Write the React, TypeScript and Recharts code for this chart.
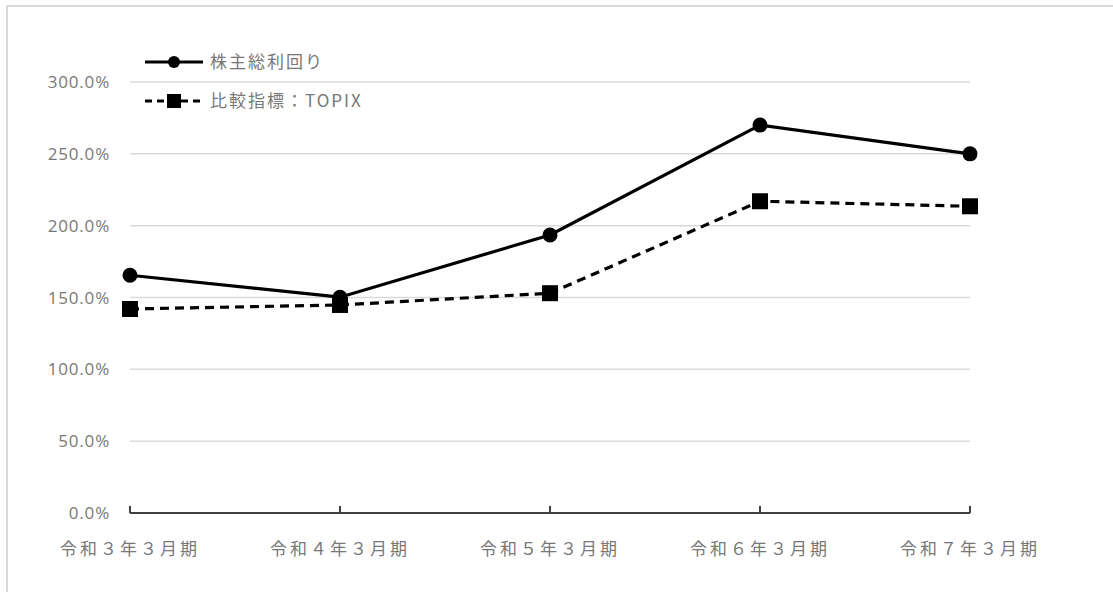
import { LineChart, Line, XAxis, YAxis, CartesianGrid } from "recharts";

const categories = ["令和３年３月期", "令和４年３月期", "令和５年３月期", "令和６年３月期", "令和７年３月期"];
const tsrValues = [165.5, 150.2, 193.5, 270.0, 250.0];
const topixValues = [142.0, 144.8, 153.0, 217.0, 213.5];
const yTicks = [0, 50, 100, 150, 200, 250, 300];
const seriesNames = ["株主総利回り", "比較指標：TOPIX"];

const data = categories.map((name, i) => ({
  name,
  tsr: tsrValues[i],
  topix: topixValues[i],
}));

const GRAY = "#787878";
const CJK = "'Noto Sans CJK JP', 'Noto Sans', sans-serif";

// x tick: upward tick mark plus label underneath
const XTick = (props: any) => {
  const { x, y, payload } = props;
  return (
    <g>
      <line x1={x} y1={y} x2={x} y2={y - 7} stroke="#404040" strokeWidth={2} />
      <text
        x={x}
        y={y + 42}
        textAnchor="middle"
        fill={GRAY}
        fontSize={17}
        fontFamily={CJK}
        letterSpacing={3}
      >
        {payload.value}
      </text>
    </g>
  );
};

const SquareDot = (props: any) => {
  const { cx, cy, index } = props;
  if (cx == null || cy == null) return null;
  return <rect key={index} x={cx - 8} y={cy - 8} width={16} height={16} fill="#000" />;
};

// legend drawn as an overlay so it takes no space from the plot
const LegendBox = () => (
  <svg width={320} height={80} style={{ position: "absolute", left: 143, top: 44, overflow: "visible" }}>
    <line x1={2} y1={18} x2={60} y2={18} stroke="#000" strokeWidth={3} />
    <circle cx={31} cy={18} r={6} fill="#000" />
    <text x={67} y={24} fill={GRAY} fontSize={17} fontFamily={CJK} letterSpacing={2}>
      {seriesNames[0]}
    </text>
    <line x1={2} y1={57} x2={60} y2={57} stroke="#000" strokeWidth={3} strokeDasharray="7 5" />
    <rect x={24} y={50} width={14} height={14} fill="#000" />
    <text x={67} y={63} fill={GRAY} fontSize={17} fontFamily={CJK} letterSpacing={2}>
      {seriesNames[1]}
    </text>
  </svg>
);

export default function App() {
  return (
    <div style={{ position: "absolute", left: 0, top: 0, width: 1113, height: 592, background: "#fff" }}>
      <LineChart
        width={1113}
        height={592}
        data={data}
        margin={{ top: 82, right: 143, bottom: 0, left: 0 }}
      >
        <CartesianGrid vertical={false} stroke="#d9d9d9" strokeWidth={1.5} />
        <XAxis
          dataKey="name"
          height={79}
          tickLine={false}
          tickSize={0}
          tickMargin={0}
          stroke="#404040"
          strokeWidth={2}
          tick={<XTick />}
          interval={0}
        />
        <YAxis
          width={130}
          domain={[0, 300]}
          ticks={yTicks}
          axisLine={false}
          tickLine={false}
          tickMargin={14}
          tick={{ fill: GRAY, fontSize: 17, fontFamily: "'Open Sans', sans-serif", letterSpacing: 0.8 }}
          tickFormatter={(v: number) => `${v.toFixed(1)}%`}
        />
        <Line
          dataKey="tsr"
          name={seriesNames[0]}
          stroke="#000"
          strokeWidth={3.2}
          dot={{ r: 7.5, fill: "#000", stroke: "#000", strokeWidth: 0 }}
          activeDot={false}
          isAnimationActive={false}
        />
        <Line
          dataKey="topix"
          name={seriesNames[1]}
          stroke="#000"
          strokeWidth={3.2}
          strokeDasharray="9 6"
          dot={<SquareDot />}
          activeDot={false}
          isAnimationActive={false}
        />
      </LineChart>
      <LegendBox />
      <div
        style={{
          position: "absolute",
          left: 6,
          top: 5,
          width: 1107,
          height: 587,
          borderTop: "2px solid #d9d9d9",
          borderLeft: "2px solid #d9d9d9",
          boxSizing: "border-box",
          pointerEvents: "none",
        }}
      />
    </div>
  );
}
